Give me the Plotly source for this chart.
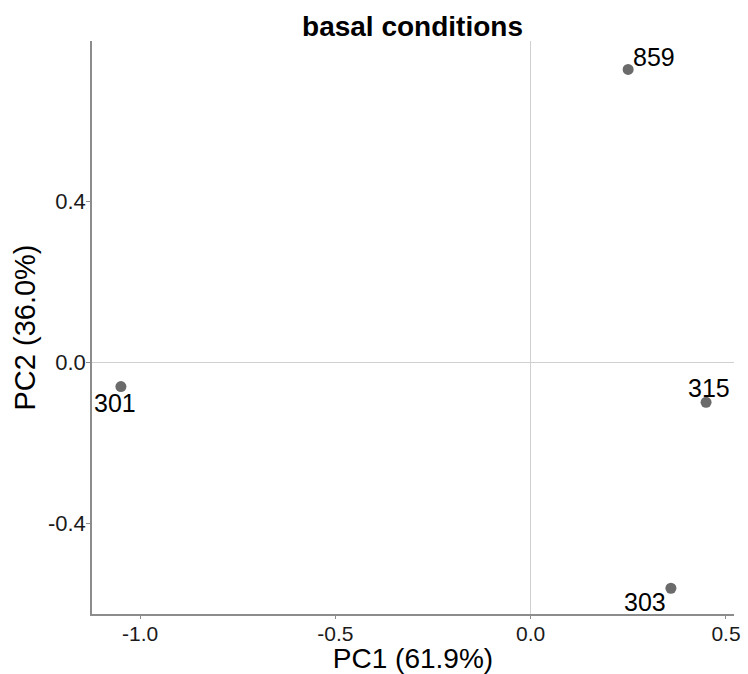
import plotly.graph_objects as go

samples = ["301", "859", "315", "303"]
pc1 = [-1.049, 0.2495, 0.449, 0.359]
pc2 = [-0.061, 0.727, -0.100, -0.562]
# label offsets in pixels (right, up) as placed by the repel layout
label_dx = [-6, 26, 3, -26]
label_dy = [-16, 12, 14, -14]

x_ticks = [-1.0, -0.5, 0.0, 0.5]
y_ticks = [-0.4, 0.0, 0.4]

FONT = "Liberation Sans, Arial, sans-serif"

fig = go.Figure()
fig.add_trace(go.Scatter(
    x=pc1, y=pc2, mode="markers",
    marker=dict(size=11, color="#6b6b6b", line=dict(width=0)),
    hoverinfo="text", text=samples, showlegend=False,
))

for s, x, y, dx, dy in zip(samples, pc1, pc2, label_dx, label_dy):
    fig.add_annotation(x=x, y=y, text=s, showarrow=False,
                       xshift=dx, yshift=dy,
                       font=dict(family=FONT, size=25, color="#000000"))

fig.update_layout(
    width=748, height=674,
    margin=dict(l=92, r=14, t=41, b=60),
    paper_bgcolor="white", plot_bgcolor="white",
    title=dict(text="<b>basal conditions</b>", x=0.5515,
               xanchor="center", y=1 - 26 / 674, yanchor="middle",
               font=dict(family=FONT, size=28, color="#000000")),
    font=dict(family=FONT, color="#000000"),
)

fig.update_xaxes(
    range=[-1.123, 0.5205], tickvals=x_ticks, ticktext=[f"{v:.1f}" for v in x_ticks],
    showgrid=False, zeroline=True, zerolinecolor="#d0d0d0", zerolinewidth=1,
    showline=True, linecolor="#8c8c8c", linewidth=1.5,
    ticks="outside", ticklen=3, tickcolor="#8c8c8c", automargin=False,
    ticklabelstandoff=-3,
    tickfont=dict(family=FONT, size=21, color="#1a1a1a"),
    title=dict(text="PC1 (61.9%)", standoff=7, font=dict(family=FONT, size=28, color="#000000")),
)
fig.update_yaxes(
    range=[-0.626, 0.7975], tickvals=y_ticks, ticktext=[f"{v:.1f}" for v in y_ticks],
    showgrid=False, zeroline=True, zerolinecolor="#d0d0d0", zerolinewidth=1,
    showline=True, linecolor="#8c8c8c", linewidth=1.5,
    ticks="outside", ticklen=4, tickcolor="#8c8c8c", automargin=False,
    ticklabelstandoff=-4,
    tickfont=dict(family=FONT, size=22, color="#1a1a1a"),
    title=dict(text="PC2 (36.0%)", standoff=4, font=dict(family=FONT, size=29, color="#000000")),
)

fig.write_html("out.html")
